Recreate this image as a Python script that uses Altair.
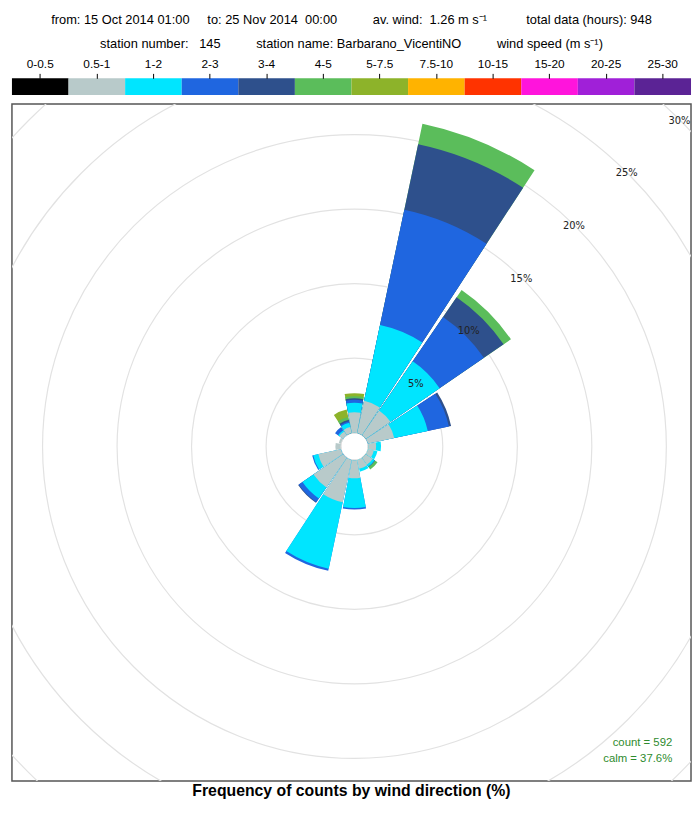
import altair as alt
import pandas as pd

# ---------------- data ----------------
directions = ["N", "NNE", "NE", "ENE", "E", "ESE", "SE", "SSE",
              "S", "SSW", "SW", "WSW", "W", "WNW", "NW", "NNW"]
dir_deg = [0, 22.5, 45, 67.5, 90, 112.5, 135, 157.5,
           180, 202.5, 225, 247.5, 270, 292.5, 315, 337.5]

speed_bins = ["0-0.5", "0.5-1", "1-2", "2-3", "3-4", "4-5", "5-7.5",
              "7.5-10", "10-15", "15-20", "20-25", "25-30"]
bin_colours = ["#000000", "#b8caca", "#00e5ff", "#1f66e0", "#2e508c", "#5bbd5b",
               "#8db32a", "#ffb300", "#ff3300", "#ff14dc", "#a020d8", "#5b2395"]

# frequency (%) by direction (N ... NNW) for each wind-speed class
f_0_05 = [0] * 16
f_05_1 = [1.37, 2.2, 2.0, 1.8, 0.53, 0.4, 0.55, 0.6, 1.2, 2.9, 2.4, 1.55, 0.35, 0.15, 0.3, 0.4]
f_1_2 = [0.63, 5.2, 4.0, 2.3, 0.33, 0.25, 0.15, 0.2, 2.0, 4.55, 0.9, 0.35, 0, 0, 0.1, 0.3]
f_2_3 = [0.2, 7.9, 3.6, 1.45, 0, 0, 0.05, 0, 0.1, 0.15, 0.3, 0.07, 0, 0, 0.25, 0.1]
f_3_4 = [0.1, 4.5, 1.6, 0.15, 0, 0, 0, 0, 0, 0, 0.05, 0, 0, 0, 0, 0.1]
f_4_5 = [0.15, 1.4, 0.6, 0, 0, 0, 0.2, 0, 0, 0, 0, 0, 0, 0, 0, 0.2]
f_5_75 = [0.2, 0, 0, 0, 0, 0, 0, 0, 0, 0, 0, 0, 0, 0, 0, 0.5]
f_75_10 = [0] * 16
f_10_15 = [0] * 16
f_15_20 = [0] * 16
f_20_25 = [0] * 16
f_25_30 = [0] * 16
freq_by_bin = [f_0_05, f_05_1, f_1_2, f_2_3, f_3_4, f_4_5, f_5_75,
               f_75_10, f_10_15, f_15_20, f_20_25, f_25_30]

ring_pct = [5, 10, 15, 20, 25, 30, 35]
ring_labels = [5, 10, 15, 20, 25, 30]

count_text = ["count = 592", "calm = 37.6%"]

NB = "\u00a0"
header_1 = ("from: 15 Oct 2014 01:00" + NB * 5 + "to: 25 Nov 2014" + NB * 2 + "00:00"
            + NB * 10 + "av. wind:" + NB * 2 + "1.26 m s\u207b\u00b9" + NB * 11
            + "total data (hours): 948")
header_2 = ("station number:" + NB * 3 + "145" + NB * 10 + "station name: Barbarano_VicentiNO"
            + NB * 10 + "wind speed (m s\u207b\u00b9)")
footer = "Frequency of counts by wind direction (%)"

# ---------------- tables ----------------
half = 10.6  # half angular width of a sector (deg)
rows = []
for i, d in enumerate(dir_deg):
    cum = 0.0
    tops = []
    for j, b in enumerate(speed_bins):
        v = freq_by_bin[j][i]
        cum += v
        if v > 0:
            tops.append((j, b, cum))
    for j, b, top in tops:
        rows.append({"dir": directions[i], "a0": d - half, "a1": d + half,
                     "bin": b, "k": j, "top": top, "base": 0.0})
seg = pd.DataFrame(rows).sort_values("k", ascending=False, kind="stable")

rings = pd.DataFrame({"pct": ring_pct, "t0": 0.0, "t1": 360.0})
labs = pd.DataFrame({"pct": ring_labels, "ang": 45.0,
                     "lab": [f"{p}%" for p in ring_labels]})
ann = pd.DataFrame({"line": count_text})

FONT = "Liberation Sans, Arial, Helvetica, sans-serif"
CX, CY = 347, 347
W = 688

theta_scale = alt.Scale(type="linear", domain=[0, 360], range=[0, 6.283185307179586])
r_scale = alt.Scale(type="linear", domain=[0, 30], range=[14, 467])
colour_scale = alt.Scale(domain=speed_bins, range=bin_colours)

ring_layer = alt.Chart(rings).mark_arc(filled=False, stroke="#e2e2e2", strokeWidth=1.2, clip=True).encode(
    x=alt.value(CX), y=alt.value(CY),
    theta=alt.Theta("t0:Q", scale=theta_scale, stack=None),
    theta2="t1:Q",
    radius=alt.Radius("pct:Q", scale=r_scale),
)

wedge_layer = alt.Chart(seg).mark_arc(clip=True).encode(
    x=alt.value(CX), y=alt.value(CY),
    theta=alt.Theta("a0:Q", scale=theta_scale, stack=None),
    theta2="a1:Q",
    radius=alt.Radius("top:Q", scale=r_scale),
    radius2="base:Q",
    color=alt.Color("bin:N", scale=colour_scale, legend=None),
)

label_layer = alt.Chart(labs).mark_text(
    font="DejaVu Sans", fontSize=10, color="#222222", align="center", baseline="middle",
    dx=-1, clip=True
).encode(
    x=alt.value(CX), y=alt.value(CY),
    theta=alt.Theta("ang:Q", scale=theta_scale, stack=None),
    radius=alt.Radius("pct:Q", scale=r_scale),
    text="lab:N",
)

count_layer = alt.Chart(ann.iloc[[0]]).mark_text(
    font=FONT, fontSize=11.5, color="#2e8b2e", align="right", baseline="middle"
).encode(x=alt.value(669), y=alt.value(647), text="line:N")

calm_layer = alt.Chart(ann.iloc[[1]]).mark_text(
    font=FONT, fontSize=11.5, color="#2e8b2e", align="right", baseline="middle"
).encode(x=alt.value(669), y=alt.value(664), text="line:N")

rose = alt.layer(ring_layer, wedge_layer, label_layer, count_layer, calm_layer).properties(
    width=W, height=686,
    title=alt.Title(footer, orient="bottom", anchor="middle", font=FONT, fontSize=16,
                    fontWeight="bold", color="black", offset=2),
)

legend = alt.Chart(pd.DataFrame({"bin": speed_bins})).mark_rect().encode(
    x=alt.X("bin:N", sort=speed_bins,
            scale=alt.Scale(paddingInner=0, paddingOuter=0),
            axis=alt.Axis(orient="top", title=None, domain=False, labelAngle=0,
                          tickColor="black", tickSize=5, labelPadding=3,
                          labelFont=FONT, labelFontSize=12, labelColor="black")),
    color=alt.Color("bin:N", scale=colour_scale, legend=None),
).properties(
    width=W, height=17,
    view=alt.ViewBackground(stroke="transparent"),
    title=alt.Title(header_1, subtitle=header_2, anchor="middle", font=FONT, fontSize=13,
                    fontWeight="normal", color="black", subtitleFont=FONT,
                    subtitleFontSize=13, subtitleColor="black", subtitlePadding=11,
                    offset=7),
)

chart = alt.vconcat(legend, rose, spacing=7).properties(
    padding={"left": 3, "top": 0, "right": 0, "bottom": 0},
    background="white",
).configure_view(stroke="#555555", strokeWidth=1.5)

chart.save("out.html", embed_options={"renderer": "svg", "actions": False})
